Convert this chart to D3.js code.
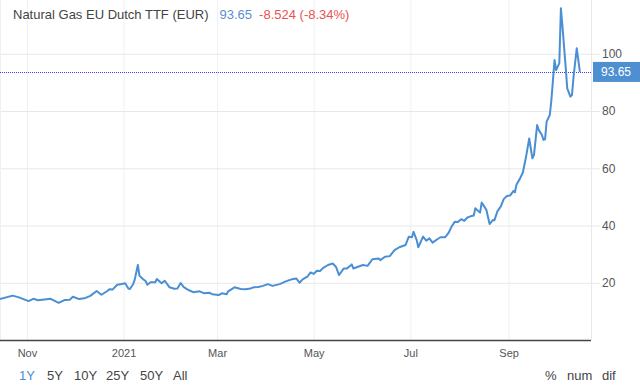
<!DOCTYPE html>
<html>
<head>
<meta charset="utf-8">
<script src="https://cdn.jsdelivr.net/npm/d3@7"></script>
<style>
  body { margin: 0; background: #fff; }
  svg { display: block; font-family: "Liberation Sans", Arial, sans-serif; }
</style>
</head>
<body>
<div id="content"></div>
<script>
// Natural Gas EU Dutch TTF, 1Y daily closes (EUR/MWh)
var dates = [
  "2020-10-15","2020-10-23","2020-10-27","2020-11-02","2020-11-05","2020-11-08","2020-11-16",
  "2020-11-21","2020-11-25","2020-11-28","2020-11-30","2020-12-04","2020-12-08","2020-12-11",
  "2020-12-15","2020-12-18","2020-12-22","2020-12-23","2020-12-25","2020-12-28","2020-12-31",
  "2021-01-02","2021-01-04","2021-01-05","2021-01-07","2021-01-08","2021-01-10","2021-01-11",
  "2021-01-13","2021-01-15","2021-01-16","2021-01-18","2021-01-21","2021-01-22","2021-01-25",
  "2021-01-27","2021-01-30","2021-02-02","2021-02-04","2021-02-06","2021-02-08","2021-02-10",
  "2021-02-12","2021-02-14","2021-02-18","2021-02-21","2021-02-24","2021-02-26","2021-03-02",
  "2021-03-04","2021-03-07","2021-03-08","2021-03-12","2021-03-16","2021-03-19","2021-03-22",
  "2021-03-24","2021-03-27","2021-03-30","2021-04-02","2021-04-05","2021-04-10","2021-04-13",
  "2021-04-16","2021-04-18","2021-04-20","2021-04-22","2021-04-24","2021-04-27","2021-04-29",
  "2021-05-01","2021-05-03","2021-05-05","2021-05-07","2021-05-10","2021-05-13","2021-05-15",
  "2021-05-17","2021-05-20","2021-05-22","2021-05-25","2021-05-26","2021-05-29","2021-06-01",
  "2021-06-04","2021-06-07","2021-06-11","2021-06-12","2021-06-15","2021-06-18","2021-06-21",
  "2021-06-24","2021-06-28","2021-06-30","2021-07-02","2021-07-03","2021-07-05","2021-07-06",
  "2021-07-09","2021-07-11","2021-07-13","2021-07-15","2021-07-18","2021-07-20","2021-07-23",
  "2021-07-25","2021-07-27","2021-07-29","2021-07-31","2021-08-02","2021-08-04","2021-08-06",
  "2021-08-08","2021-08-10","2021-08-11","2021-08-13","2021-08-14","2021-08-15","2021-08-16",
  "2021-08-18","2021-08-20","2021-08-22","2021-08-23","2021-08-25","2021-08-27","2021-08-29",
  "2021-08-31","2021-09-02","2021-09-04","2021-09-05","2021-09-06","2021-09-08","2021-09-10",
  "2021-09-12","2021-09-14","2021-09-16","2021-09-17","2021-09-19","2021-09-20","2021-09-22",
  "2021-09-23","2021-09-24","2021-09-25","2021-09-27","2021-09-28","2021-09-29","2021-09-30",
  "2021-10-01","2021-10-03","2021-10-04","2021-10-05","2021-10-07","2021-10-08","2021-10-10",
  "2021-10-11","2021-10-12","2021-10-14","2021-10-16"
];
var prices = [
  14.3, 15.5, 14.9, 13.6, 14.4, 13.9, 14.4,
  13.0, 14.0, 14.1, 15.1, 14.3, 14.7, 15.4,
  17.1, 15.8, 17.2, 17.7, 17.6, 19.3, 19.6,
  19.8, 18.0, 17.8, 19.5, 21.0, 26.2, 22.5,
  21.4, 20.5, 19.3, 20.2, 20.2, 21.3, 19.8,
  20.7, 18.4, 17.9, 18.0, 19.9, 18.5, 17.8,
  17.2, 16.7, 17.0, 16.3, 16.5, 16.0, 15.7,
  16.3, 16.0, 17.0, 18.4, 17.8, 17.7, 18.0,
  18.4, 18.5, 18.9, 19.5, 18.9, 19.6, 20.4,
  21.0, 21.3, 21.5, 20.0, 21.2, 22.1, 23.6,
  23.1, 24.2, 24.1, 25.2, 26.2, 26.7, 25.6,
  22.7, 25.0, 25.0, 26.4, 25.0, 25.6, 26.2,
  25.9, 28.2, 28.5, 27.9, 29.1, 29.3, 31.4,
  32.4, 33.2, 36.1, 35.9, 37.8, 34.9, 32.4,
  36.1, 34.7, 35.5, 34.0, 35.2, 35.9, 35.9,
  37.3, 39.6, 41.3, 41.2, 42.2, 41.6, 42.8,
  43.2, 43.5, 46.0, 45.0, 44.5, 48.0, 47.2,
  45.4, 40.5, 41.9, 41.8, 45.0, 46.6, 49.3,
  50.3, 50.5, 52.0, 51.6, 54.3, 56.2, 58.5,
  64.0, 70.4, 63.5, 64.6, 75.1, 73.4, 71.6,
  69.9, 70.1, 76.3, 78.6, 83.8, 90.8, 97.8,
  94.3, 96.7, 115.9, 109.5, 95.5, 87.9, 85.0,
  85.6, 92.0, 101.9, 93.65
];

var title = "Natural Gas EU Dutch TTF (EUR)";
var last_price = 93.65;
var change = "-8.524";
var change_pct = "(-8.34%)";

var y_ticks = [20, 40, 60, 80, 100];
var x_tick_dates = ["2020-11-01","2021-01-01","2021-03-01","2021-05-01","2021-07-01","2021-09-01"];
var x_tick_labels = ["Nov","2021","Mar","May","Jul","Sep"];
var range_buttons = ["1Y","5Y","10Y","25Y","50Y","All"];
var mode_buttons = ["%","num","dif"];

var width = 640, height = 388;
var plot_right = 591, plot_bottom = 340;
var line_colour = "#4a8fd4";
var grid_colour = "#e8e8e8";
var text_colour = "#555";

var parse = d3.timeParse("%Y-%m-%d");
var series = dates.map(function(d, i) { return { date: parse(d), value: prices[i] }; });

var x = d3.scaleTime()
  .domain([parse("2020-10-15"), parse("2021-10-23")])
  .range([0, plot_right]);
var y = d3.scaleLinear()
  .domain([0, 100])
  .range([plot_bottom, 53.75]);

var chart = d3.select("#content")
  .append("svg")
  .attr("width", width)
  .attr("height", height);

// vertical grid + month labels
var xAxis = chart.append("g")
  .attr("transform", "translate(0," + plot_bottom + ")")
  .call(d3.axisBottom(x)
    .tickValues(x_tick_dates.map(parse))
    .tickFormat(function(d, i) { return x_tick_labels[i]; })
    .tickSize(-plot_bottom)
    .tickPadding(9));
xAxis.select(".domain").remove();
xAxis.selectAll("line").attr("stroke", "#eef0f3");
xAxis.selectAll("text")
  .attr("fill", text_colour)
  .attr("font-size", "11px")
  .attr("font-family", "Liberation Sans, Arial, sans-serif");

// horizontal grid + value labels on the right
var yAxis = chart.append("g")
  .call(d3.axisRight(y)
    .tickValues(y_ticks)
    .tickSize(600)
    .tickPadding(2));
yAxis.select(".domain").remove();
yAxis.selectAll("line").attr("stroke", grid_colour);
yAxis.selectAll("text")
  .attr("fill", text_colour)
  .attr("font-size", "12px")
  .attr("font-family", "Liberation Sans, Arial, sans-serif");

// frame
chart.append("line")
  .attr("x1", plot_right + 0.5).attr("x2", plot_right + 0.5)
  .attr("y1", 0).attr("y2", plot_bottom)
  .attr("stroke", grid_colour);
chart.append("line")
  .attr("x1", 0.5).attr("x2", 0.5)
  .attr("y1", 0).attr("y2", plot_bottom)
  .attr("stroke", "#eef0f3");
chart.append("line")
  .attr("x1", 0).attr("x2", plot_right)
  .attr("y1", plot_bottom + 0.5).attr("y2", plot_bottom + 0.5)
  .attr("stroke", "#444")
  .attr("stroke-width", 1.5);

// last price line
chart.append("line")
  .attr("x1", 0).attr("x2", plot_right)
  .attr("y1", Math.round(y(last_price)) + 0.5).attr("y2", Math.round(y(last_price)) + 0.5)
  .attr("stroke", "#3b3bf0")
  .attr("stroke-dasharray", "1,1");

// price series
chart.append("path")
  .datum(series)
  .attr("fill", "none")
  .attr("stroke", line_colour)
  .attr("stroke-width", 2)
  .attr("stroke-linejoin", "round")
  .attr("d", d3.line()
    .x(function(d) { return x(d.date); })
    .y(function(d) { return y(d.value); }));

// last price badge
chart.append("rect")
  .attr("x", 593)
  .attr("y", y(last_price) - 10)
  .attr("width", 47)
  .attr("height", 20)
  .attr("fill", "#4d8fd1");
chart.append("text")
  .attr("x", 616)
  .attr("y", y(last_price) + 4)
  .attr("text-anchor", "middle")
  .attr("fill", "#fff")
  .attr("font-size", "12px")
  .text(last_price.toFixed(2));

// header
var header = chart.append("text")
  .attr("x", 13)
  .attr("y", 19)
  .attr("font-size", "13px");
header.append("tspan").attr("fill", "#444").text(title);
header.append("tspan").attr("dx", 11).attr("fill", "#5b8fd0").text(last_price.toFixed(2));
header.append("tspan").attr("dx", 7).attr("fill", "#e8534f").text(change + " " + change_pct);

// range buttons
var range_x = [19, 47, 74, 106, 140, 173];
chart.selectAll(".range")
  .data(range_buttons)
  .enter().append("text")
  .attr("class", "range")
  .attr("x", function(d, i) { return range_x[i]; })
  .attr("y", 380)
  .attr("font-size", "13px")
  .attr("fill", function(d, i) { return i == 0 ? "#4a8fd4" : "#444"; })
  .text(function(d) { return d; });

var mode_x = [545, 567, 602];
chart.selectAll(".mode")
  .data(mode_buttons)
  .enter().append("text")
  .attr("class", "mode")
  .attr("x", function(d, i) { return mode_x[i]; })
  .attr("y", 380)
  .attr("font-size", "13px")
  .attr("fill", "#444")
  .text(function(d) { return d; });
</script>
</body>
</html>
